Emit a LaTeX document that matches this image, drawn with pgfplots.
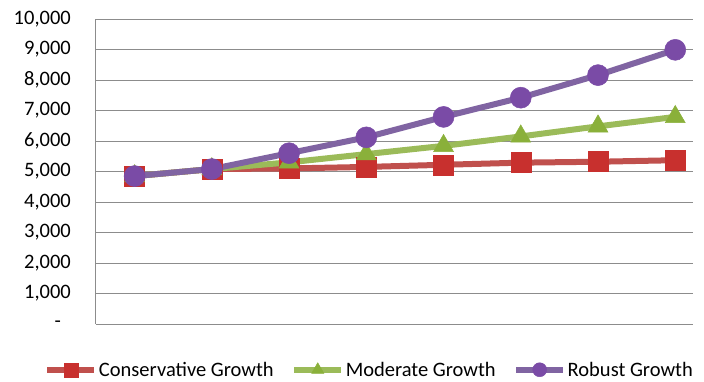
\documentclass[border=0pt]{standalone}
\usepackage{fontspec}
\setmainfont{Carlito}
\usepackage{pgfplots}
\pgfplotsset{compat=1.18}
\definecolor{cred}{HTML}{C0504D}
\definecolor{credm}{HTML}{C8302E}
\definecolor{cgreen}{HTML}{9BBB59}
\definecolor{cgreenm}{HTML}{8AB03A}
\definecolor{cpurple}{HTML}{8064A2}
\definecolor{cpurplem}{HTML}{7A4BA6}
\definecolor{cgrid}{HTML}{8C8C8C}
\begin{document}
\begin{tikzpicture}[x=1pt,y=1pt]
\path[use as bounding box] (0,0) rectangle (704,381);
\begin{axis}[
  at={(96pt,57pt)}, anchor=south west,
  scale only axis, width=597pt, height=305pt,
  xmin=0.5, xmax=8.23, ymin=0, ymax=10000,
  scaled y ticks=false,
  xtick=\empty,
  ytick={0,1000,...,10000},
  yticklabels={{-\rule{10pt}{0pt}},{1,000},{2,000},{3,000},{4,000},{5,000},{6,000},{7,000},{8,000},{9,000},{10,000}},
  ymajorgrids, grid style={cgrid, line width=1pt},
  axis x line*=bottom, axis y line*=left,
  axis line style={cgrid, line width=1pt, -},
  major tick length=0pt,
  yticklabel style={font=\fontsize{20.5}{24}\selectfont, inner sep=0pt, xshift=-25pt, text=black},
  clip=false,
  legend columns=3,
  legend style={draw=none, fill=none, at={(0.458,-0.15)}, anchor=center,
    font=\fontsize{20.5}{24}\selectfont, inner sep=0pt,
    nodes={inner sep=1.5pt},
    /tikz/every odd column/.append style={column sep=0pt},
    /tikz/every even column/.append style={column sep=16pt}},
  legend cell align=left,
  legend image code/.code={\draw[#1, mark repeat=2, mark phase=2, mark size=7pt] plot coordinates {(0pt,0pt) (23.5pt,0pt) (47pt,0pt)};},
]
\addplot[cred, line width=6pt, mark=square*, mark size=10pt, mark options={fill=credm, draw=credm, line width=0.5pt}]
  coordinates {(1,4850) (2,5080) (3,5100) (4,5150) (5,5220) (6,5290) (7,5320) (8,5370)};
\addlegendentry{Conservative Growth}
\addplot[cgreen, line width=6pt, mark=triangle*, mark size=11.5pt, mark options={fill=cgreenm, draw=cgreenm, line width=0.5pt}]
  coordinates {(1,4850) (2,5080) (3,5300) (4,5570) (5,5840) (6,6150) (7,6480) (8,6790)};
\addlegendentry{Moderate Growth}
\addplot[cpurple, line width=6pt, mark=*, mark size=10.5pt, mark options={fill=cpurplem, draw=cpurplem, line width=0.5pt}]
  coordinates {(1,4850) (2,5080) (3,5600) (4,6120) (5,6790) (6,7420) (7,8160) (8,8990)};
\addlegendentry{Robust Growth}
\end{axis}
\end{tikzpicture}
\end{document}
